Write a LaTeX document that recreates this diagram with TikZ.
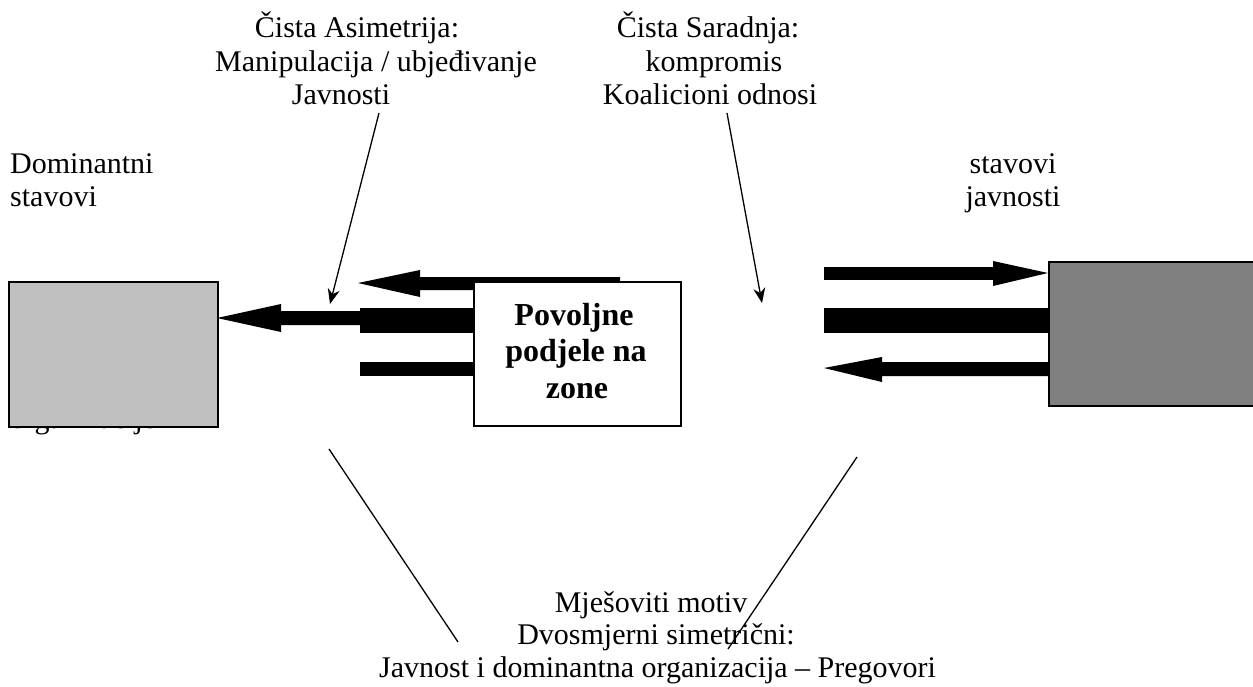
\documentclass[tikz,border=0pt]{standalone}
\usepackage{fontspec}
\setmainfont{Liberation Serif}
\usetikzlibrary{arrows.meta}
\begin{document}
\begin{tikzpicture}[x=1pt,y=-1pt,
  txt/.style={font=\fontsize{30}{34.5}\selectfont, inner sep=0pt, anchor=base},
  boldtxt/.style={font=\fontsize{32}{37}\selectfont\bfseries, inner sep=0pt, anchor=base},
  boxline/.style={draw=black, line width=1.5pt},
  thin/.style={line width=1.3pt},
  thinarrow/.style={thin, -{Stealth[length=15pt,width=12pt]}}
  ]
\useasboundingbox (0,0) rectangle (1253,686);
% hidden text under left box
\node[txt, anchor=base west] (org) at (10,428) {organizacije};
% thick arrows, left
\fill (358,283) -- (420,270) -- (420,277) -- (620,277) -- (620,290) -- (420,290) -- (420,297) -- cycle;
\fill (217,318) -- (281,304) -- (281,311) -- (360,311) -- (360,325) -- (281,325) -- (281,332) -- cycle;
\fill (360,308) rectangle (480,333);
\fill (360,362) rectangle (480,376);
% thick arrows, right
\fill (824,267) rectangle (993,280);
\fill (993,261) -- (1048,273) -- (993,286) -- cycle;
\fill (824,308) rectangle (1048,333);
\fill (824,368) -- (882,357) -- (882,362) -- (1050,362) -- (1050,376) -- (882,376) -- (882,382) -- cycle;
% boxes
\node[boxline, fill={rgb,255:red,192;green,192;blue,192}, minimum width=209pt, minimum height=145pt, anchor=north west, inner sep=0pt] (dom) at (8,281) {};
\node[boxline, fill=white, minimum width=207pt, minimum height=144pt, anchor=north west, inner sep=0pt] (zone) at (473,281) {};
\node[boxline, fill={rgb,255:red,128;green,128;blue,128}, minimum width=220pt, minimum height=144pt, anchor=north west, inner sep=0pt] (pub) at (1048,261) {};
\node[boldtxt] (z1) at (574,325) {Povoljne};
\node[boldtxt] (z2) at (576,361.5) {podjele na};
\node[boldtxt] (z3) at (577,398) {zone};
% top texts
\node[txt] (a1) at (357,37) {Čista Asimetrija:};
\node[txt, anchor=base west] (a2) at (215,71) {Manipulacija / ubjeđivanje};
\node[txt] (a3) at (341,104) {Javnosti};
\node[txt] (s1) at (708,37) {Čista Saradnja:};
\node[txt] (s2) at (714,71) {kompromis};
\node[txt] (s3) at (710,104) {Koalicioni odnosi};
\node[txt, anchor=base west] (d1) at (10,173) {Dominantni};
\node[txt, anchor=base west] (d2) at (10,206) {stavovi};
\node[txt] (j1) at (1013,173) {stavovi};
\node[txt] (j2) at (1013,206) {javnosti};
% bottom texts
\node[txt] (m1) at (651,612) {Mješoviti motiv};
\node[txt] (m2) at (656,644.5) {Dvosmjerni simetrični:};
\node[txt, anchor=base west] (m3) at (379,677) {Javnost i dominantna organizacija – Pregovori};
% thin arrows and lines
\coordinate (t1) at (379,113);
\coordinate (h1) at (330,304);
\coordinate (t2) at (727,113);
\coordinate (h2) at (762,303);
\draw[thinarrow] (t1) -- (h1);
\draw[thinarrow] (t2) -- (h2);
\coordinate (l1a) at (329,449);
\coordinate (l1b) at (458,642);
\coordinate (l2a) at (857,457);
\coordinate (l2b) at (728,649);
\draw[thin] (l1a) -- (l1b);
\draw[thin] (l2a) -- (l2b);
\end{tikzpicture}
\end{document}
